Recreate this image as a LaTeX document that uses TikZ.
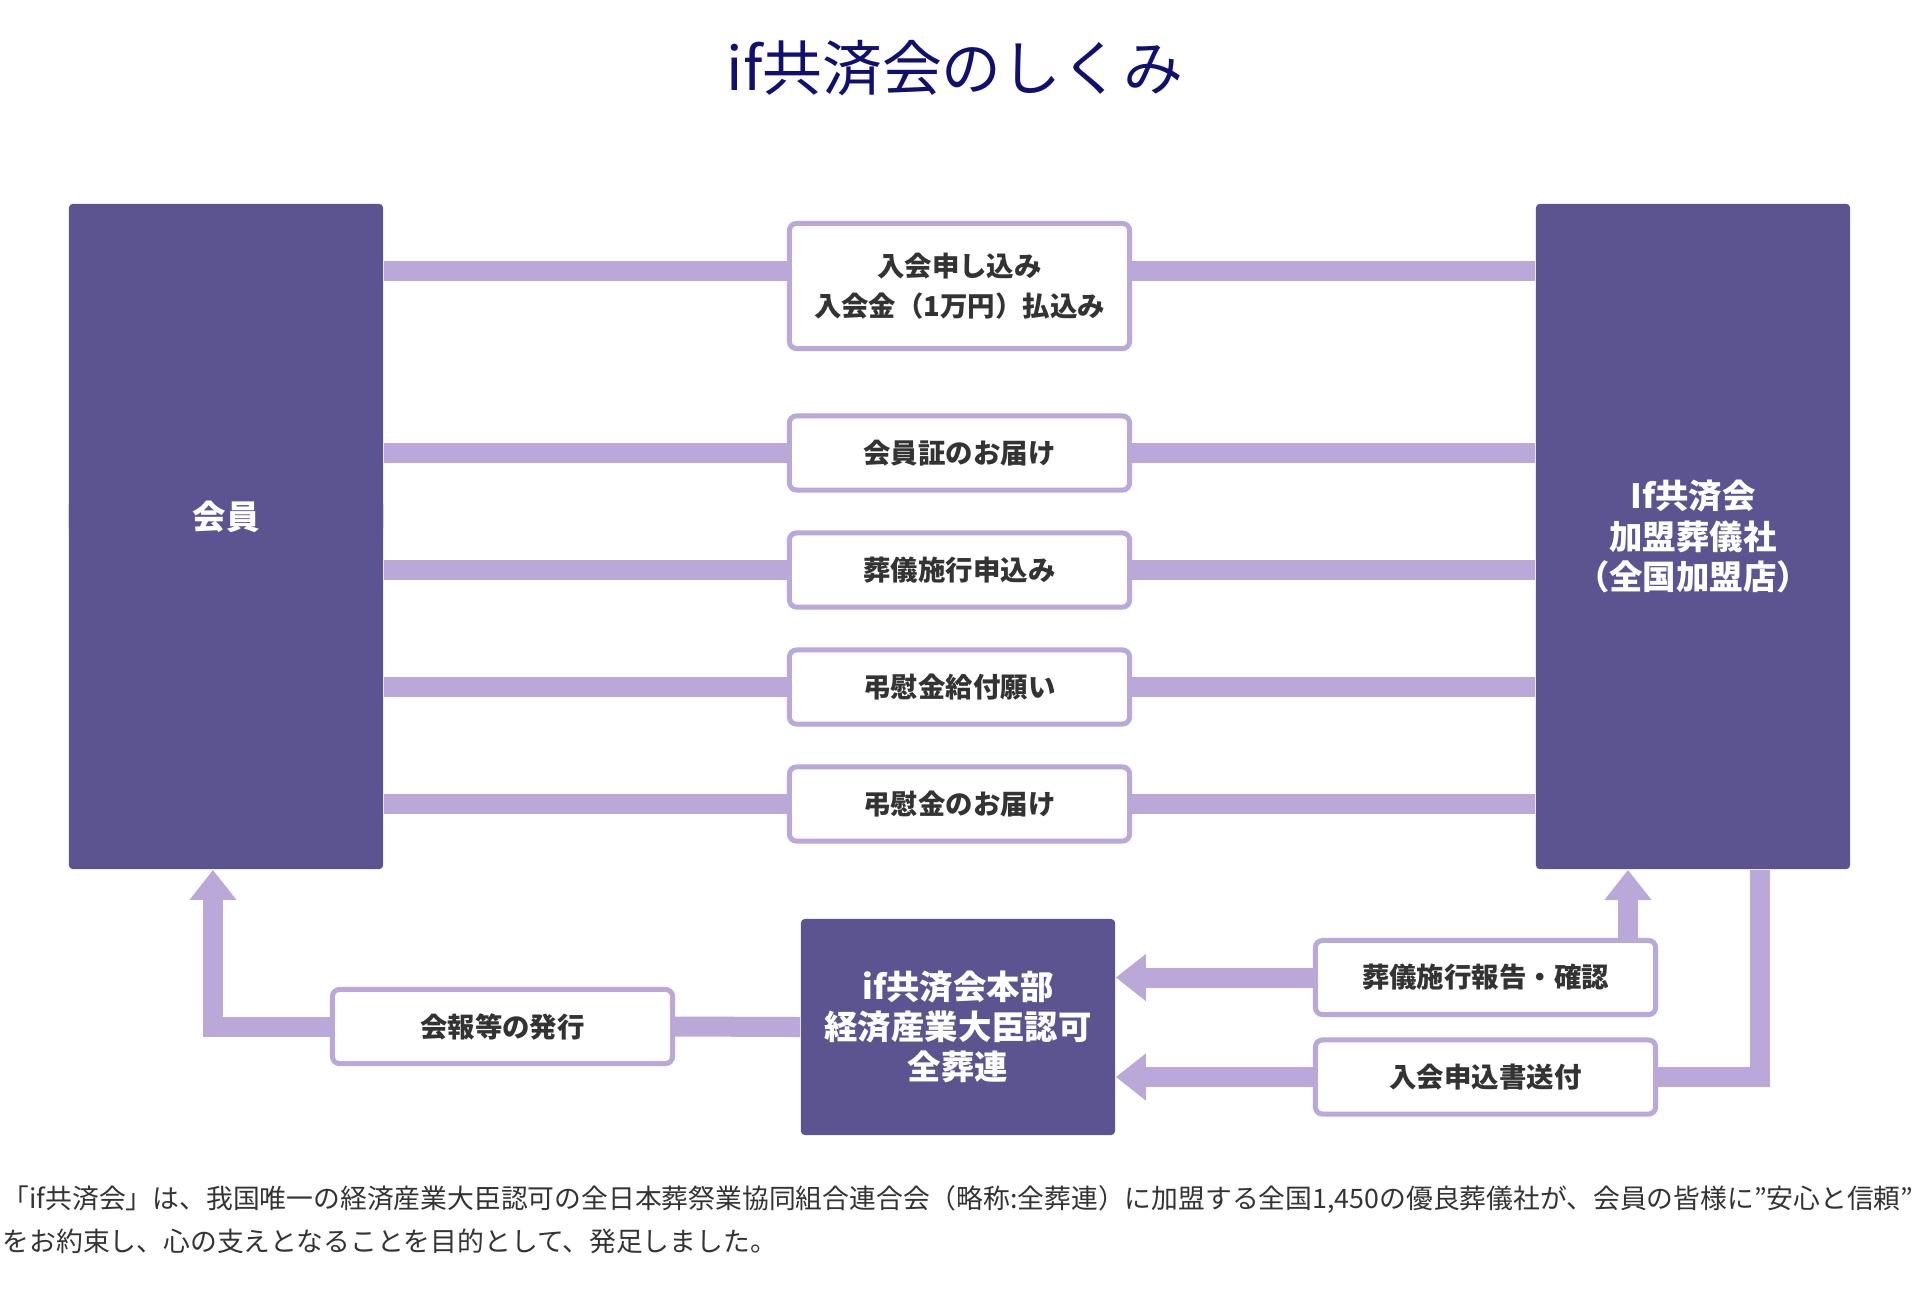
\documentclass[tikz,border=0pt]{standalone}
\usepackage{fontspec}
\setmainfont{Noto Sans CJK JP}
\usetikzlibrary{arrows.meta,positioning}
\definecolor{Plum}{HTML}{5C5491}
\definecolor{Lilac}{HTML}{BAA8D8}
\definecolor{Navy}{HTML}{10106E}
\definecolor{Ink}{HTML}{333333}

\begin{document}
\begin{tikzpicture}[x=0.01cm,y=-0.01cm,
  darkbox/.style={fill=Plum,rounded corners=0.04cm,minimum width=3.14cm,inner sep=0pt,
    text=white,font=\fontsize{9.5}{11.4}\selectfont\bfseries,align=center},
  flowbox/.style={draw=Lilac,line width=0.05cm,fill=white,rounded corners=0.07cm,
    minimum width=3.40cm,minimum height=0.74cm,inner sep=0pt,text=Ink,
    font=\fontsize{7.8}{11.4}\selectfont\bfseries,align=center},
  bar/.style={Lilac,line width=0.2cm},
  arrowbar/.style={bar,-{Triangle[length=0.3cm,width=0.45cm]}}]
  \fill[white] (0,0) rectangle (1930,1290);
  \useasboundingbox (0,0) rectangle (1930,1290);

  \node[font=\fontsize{17}{20}\selectfont,text=Navy] (title) at (955,68) {if共済会のしくみ};

  % the two columns
  \node[darkbox,minimum height=6.65cm] (member) at (226,536.5) {};
  \node[darkbox] (memberlabel) at ([yshift=0.2cm]member.center) {会員};
  \node[darkbox,minimum height=6.65cm] (shop) at (1693,536.5) {If共済会\\加盟葬儀社\\（全国加盟店）};

  % steps in between
  \node[flowbox,minimum height=1.25cm] (c1) at (959.5,286) {入会申し込み\\入会金（1万円）払込み};
  \node[flowbox] (c2) at (959.5,453) {会員証のお届け};
  \node[flowbox] (c3) at (959.5,570) {葬儀施行申込み};
  \node[flowbox] (c4) at (959.5,687) {弔慰金給付願い};
  \node[flowbox] (c5) at (959.5,804) {弔慰金のお届け};

  \coordinate (r1) at ([yshift=0.15cm]c1.west);
  \coordinate (s1) at ([yshift=0.15cm]c1.east);
  \draw[bar] (member.east |- r1) -- (r1);
  \draw[bar] (s1) -- (shop.west |- s1);
  \foreach \n in {2,...,5}{
    \draw[bar] (member.east |- c\n) -- (c\n.west);
    \draw[bar] (c\n.east) -- (shop.west |- c\n);
  }

  % head office and its links
  \node[darkbox,minimum height=2.16cm] (hq) at (958,1027) {if共済会本部\\経済産業大臣認可\\全葬連};
  \node[flowbox] (kaiho) at (502.5,1026.5) {会報等の発行};
  \node[flowbox] (report) at (1485.5,977.5) {葬儀施行報告・確認};
  \node[flowbox] (apply) at (1485.5,1077) {入会申込書送付};

  \coordinate (mtip) at ([xshift=-0.13cm]member.south);
  \coordinate (up) at ([xshift=-0.65cm]shop.south);
  \coordinate (sdown) at ([xshift=0.67cm]shop.south);

  \draw[bar] (hq.west) -- (kaiho.east);
  \draw[arrowbar] (kaiho.west) -| (mtip);
  \draw[arrowbar] (report.north -| up) -- (up);
  \draw[bar] (sdown) |- (apply.east);
  \draw[arrowbar] (report.west) -- (hq.east |- report.west);
  \draw[arrowbar] (apply.west) -- (hq.east |- apply.west);

  \node[anchor=west,inner sep=0pt,text=Ink,font=\fontsize{7.62}{9}\selectfont] (note1) at (2,1200)
    {「if共済会」は、我国唯一の経済産業大臣認可の全日本葬祭業協同組合連合会（略称:全葬連）に加盟する全国1,450の優良葬儀社が、会員の皆様に”安心と信頼”};
  \node[anchor=west,inner sep=0pt,text=Ink,font=\fontsize{7.62}{9}\selectfont] (note2) at (2,1241)
    {をお約束し、心の支えとなることを目的として、発足しました。};
\end{tikzpicture}
\end{document}
